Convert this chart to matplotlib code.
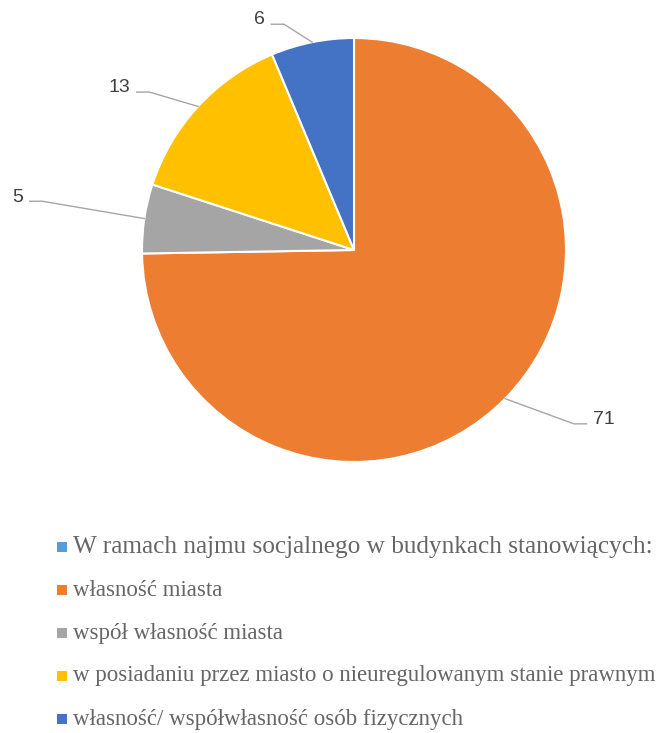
import numpy as np
import matplotlib.pyplot as plt
from matplotlib.patches import Rectangle

# Dane
kategorie = ['W ramach najmu socjalnego w budynkach stanowiących:',
             'własność miasta',
             'współ własność miasta',
             'w posiadaniu przez miasto o nieuregulowanym stanie prawnym',
             'własność/ współwłasność osób fizycznych']
wartosci = [0, 71, 5, 13, 6]
kolory = ['#5B9BD5', '#ED7D31', '#A5A5A5', '#FFC000', '#4472C4']

W, H = 663, 733
fig = plt.figure(figsize=(W / 100, H / 100), dpi=100)

# Wykres kołowy (tylko niezerowe wartości)
cx, cy, R = 354, 250, 212
ax = fig.add_axes([(cx - R) / W, 1 - (cy + R) / H, 2 * R / W, 2 * R / H])
idx = [i for i, v in enumerate(wartosci) if v > 0]
wedges, _ = ax.pie([wartosci[i] for i in idx], colors=[kolory[i] for i in idx],
                   startangle=90, counterclock=False, radius=1,
                   wedgeprops=dict(edgecolor='white', linewidth=1.5))
ax.set_xlim(-1, 1)
ax.set_ylim(-1, 1)
ax.set_aspect('equal')
ax.axis('off')

# Położenie etykiet (w promieniach od środka)
poz_etykiet = [(1.127, -0.80), (-1.56, 0.25), (-1.055, 0.765), (-0.42, 1.085)]
for w, i, (tx, ty) in zip(wedges, idx, poz_etykiet):
    th = np.deg2rad((w.theta1 + w.theta2) / 2)
    ex, ey = np.cos(th), np.sin(th)
    side = 1 if tx > 0 else -1
    ax_end = tx - side * 0.03
    elbow = ax_end - side * 0.06
    ax.plot([ex, elbow, ax_end], [ey, ty - 0.02, ty - 0.02], color='#A6A6A6',
            lw=1, clip_on=False)
    ax.text(tx, ty, str(wartosci[i]), ha='left' if side > 0 else 'right',
            va='center', fontsize=14, color='#404040', family='Liberation Sans')

# Legenda
for i, (k, c) in enumerate(zip(kategorie, kolory)):
    y = 547 + 43 * i
    fig.add_artist(Rectangle((57 / W, 1 - (y + 5) / H), 10 / W, 10 / H,
                             transform=fig.transFigure, color=c, lw=0))
    fig.text(73 / W, 1 - y / H, k, ha='left', va='center',
             fontsize=18.2 if i == 0 else 16.5, color='#666666',
             family='Liberation Serif')

plt.savefig('out.png', dpi=100)
